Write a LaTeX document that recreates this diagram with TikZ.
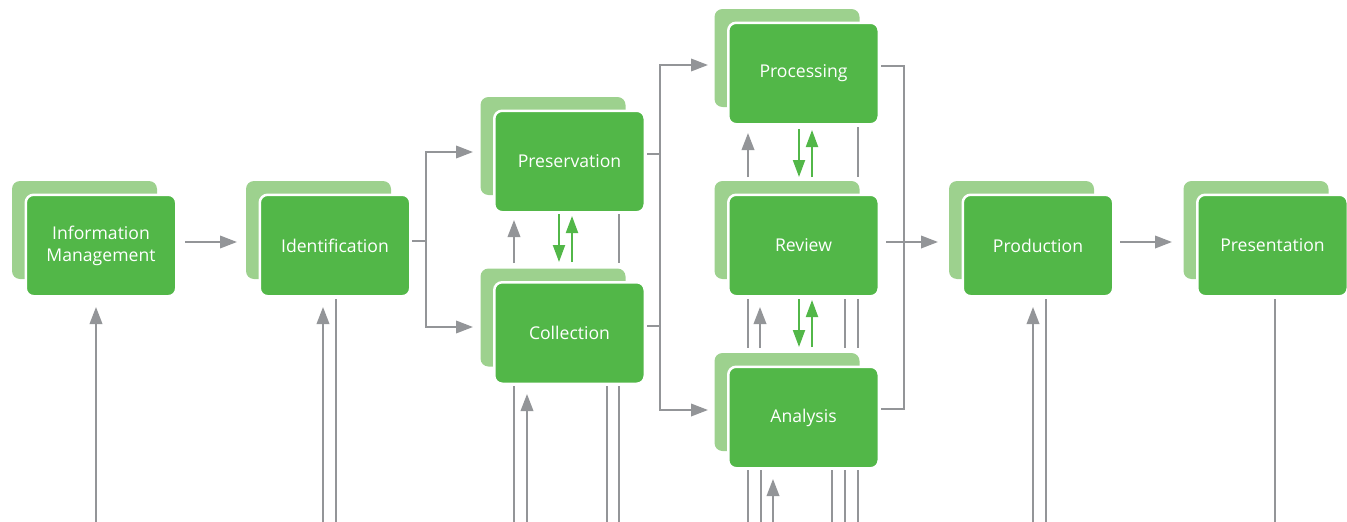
\documentclass[tikz,border=0pt]{standalone}
\usepackage{fontspec}
\setmainfont{Open Sans}
\usetikzlibrary{arrows.meta,calc}
\definecolor{fgreen}{RGB}{82,183,72}
\definecolor{lgreen}{RGB}{157,209,142}
\definecolor{lgray}{RGB}{147,149,152}
\tikzset{
  front/.style={fill=fgreen, draw=white, line width=2.5pt, rounded corners=8pt,
    minimum width=150.5pt, minimum height=101.5pt, text=white, align=center,
    inner sep=0pt, outer sep=0pt, font=\fontsize{17.6}{22}\selectfont},
  back/.style={fill=lgreen, draw=none, rounded corners=8pt,
    minimum width=145pt, minimum height=98pt, inner sep=0pt, outer sep=0pt},
  gl/.style={draw=lgray, line width=2pt},
  ga/.style={gl, -{Triangle[length=17pt,width=12.5pt]}},
  gg/.style={draw=fgreen, line width=2pt, -{Triangle[length=17pt,width=12pt]}},
}
\begin{document}
\begin{tikzpicture}[x=1pt,y=-1pt]
\useasboundingbox (0,0) rectangle (1347,522);
% back boxes
\node[back] (imb) at (84.5,230) {};
\node[back] (idb) at (318.5,230) {};
\node[back] (presb) at (553,146) {};
\node[back] (collb) at (553,317.5) {};
\node[back] (procb) at (787,58) {};
\node[back] (revb) at (787,230) {};
\node[back] (anab) at (787,402) {};
\node[back] (prodb) at (1021.5,230) {};
\node[back] (prestb) at (1256,230) {};
% front boxes
\node[front] (im) at (101,245.5) {Information\\Management};
\node[front] (id) at (335,245.5) {Identification};
\node[front] (pres) at (569.5,161.5) {Preservation};
\node[front] (coll) at (569.5,333) {Collection};
\node[front] (proc) at (803.5,73.5) {Processing};
\node[front] (rev) at (803.5,245.5) {Review};
\node[front] (ana) at (803.5,417.5) {Analysis};
\node[front] (prod) at (1038,245.5) {Production};
\node[front] (prest) at (1272.5,245.5) {Presentation};
% junctions
\coordinate (j1) at ($(id)+(91,-4.5)$);
\coordinate (j2) at ($(pres)+(90.5,-7.5)$);
\coordinate (j3) at ($(coll)+(90.5,-7)$);
\coordinate (j4) at ($(proc)+(100.5,-7.5)$);
\coordinate (j5) at ($(ana)+(100.5,-8.5)$);
% horizontal flow
\draw[ga] ($(im)+(84,-3.5)$) -- ($(id)+(-98,-3.5)$);
\draw[gl] ($(id)+(77,-4.5)$) -- (j1);
\draw[ga] (j1) |- ($(pres)+(-96.5,-9.5)$);
\draw[ga] (j1) |- ($(coll)+(-96.5,-6)$);
\draw[gl] ($(pres)+(77.5,-7.5)$) -- (j2);
\draw[gl] ($(coll)+(77.5,-7)$) -- (j3);
\draw[ga] (j3) -- (j2) |- ($(proc)+(-95.5,-8.5)$);
\draw[ga] (j2) -- (j3) |- ($(ana)+(-95.5,-7.5)$);
\draw[gl] ($(proc)+(77.5,-7.5)$) -- (j4) -- (j5) -- ($(ana)+(77.5,-8.5)$);
\draw[ga] ($(rev)+(82.5,-3.5)$) -- ($(prod)+(-100,-3.5)$);
\draw[ga] ($(prod)+(82,-3.5)$) -- ($(prest)+(-100.5,-3.5)$);
% preservation - collection
\draw[ga] ($(coll)+(-55.5,-70)$) -- ($(pres)+(-55.5,58.5)$);
\draw[gg] ($(pres)+(-10.5,52.5)$) -- ($(coll)+(-10.5,-71)$);
\draw[gg] ($(coll)+(2.5,-71)$) -- ($(pres)+(2.5,54.5)$);
\draw[gl] ($(pres)+(49.5,52.5)$) -- ($(coll)+(49.5,-70)$);
% processing - review
\draw[ga] ($(rev)+(-55.5,-68.5)$) -- ($(proc)+(-55.5,59.5)$);
\draw[gg] ($(proc)+(-4.5,55.5)$) -- ($(rev)+(-4.5,-68.5)$);
\draw[gg] ($(rev)+(8.5,-68.5)$) -- ($(proc)+(8.5,56.5)$);
\draw[gl] ($(proc)+(54.5,53.5)$) -- ($(rev)+(54.5,-68.5)$);
% review - analysis
\draw[gl] ($(rev)+(-55.5,53.5)$) -- ($(ana)+(-55.5,-69.5)$);
\draw[ga] ($(ana)+(-43.5,-69.5)$) -- ($(rev)+(-43.5,61.5)$);
\draw[gg] ($(rev)+(-4.5,53.5)$) -- ($(ana)+(-4.5,-70.5)$);
\draw[gg] ($(ana)+(8.5,-70.5)$) -- ($(rev)+(8.5,54.5)$);
\draw[gl] ($(rev)+(41.5,53.5)$) -- ($(ana)+(41.5,-69.5)$);
\draw[gl] ($(rev)+(54.5,53.5)$) -- ($(ana)+(54.5,-69.5)$);
% bottom feeds
\draw[ga] ($(im)+(-5,276.5)$) -- ($(im)+(-5,61.5)$);
\draw[ga] ($(id)+(-12,276.5)$) -- ($(id)+(-12,61.5)$);
\draw[gl] ($(id)+(1,53.5)$) -- ($(id)+(1,276.5)$);
\draw[gl] ($(coll)+(-55.5,53)$) -- ($(coll)+(-55.5,189)$);
\draw[ga] ($(coll)+(-42.5,189)$) -- ($(coll)+(-42.5,61)$);
\draw[gl] ($(coll)+(37.5,53)$) -- ($(coll)+(37.5,189)$);
\draw[gl] ($(coll)+(49.5,53)$) -- ($(coll)+(49.5,189)$);
\draw[gl] ($(ana)+(-55.5,52.5)$) -- ($(ana)+(-55.5,104.5)$);
\draw[gl] ($(ana)+(-42.5,52.5)$) -- ($(ana)+(-42.5,104.5)$);
\draw[ga] ($(ana)+(-30.5,104.5)$) -- ($(ana)+(-30.5,61.5)$);
\draw[gl] ($(ana)+(28.5,52.5)$) -- ($(ana)+(28.5,104.5)$);
\draw[gl] ($(ana)+(41.5,52.5)$) -- ($(ana)+(41.5,104.5)$);
\draw[gl] ($(ana)+(54.5,52.5)$) -- ($(ana)+(54.5,104.5)$);
\draw[ga] ($(prod)+(-5,276.5)$) -- ($(prod)+(-5,61.5)$);
\draw[gl] ($(prod)+(8,53.5)$) -- ($(prod)+(8,276.5)$);
\draw[gl] ($(prest)+(2.5,53.5)$) -- ($(prest)+(2.5,276.5)$);
\end{tikzpicture}
\end{document}
